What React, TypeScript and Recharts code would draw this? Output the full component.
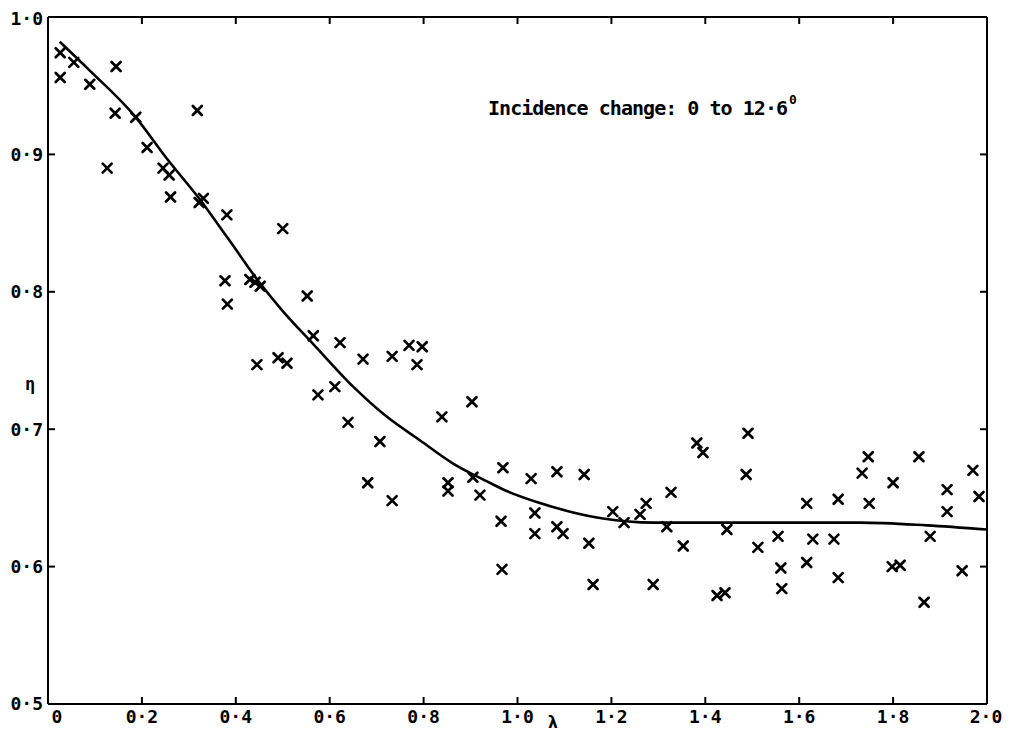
import React from 'react';
import { ComposedChart, Line, Scatter, XAxis, YAxis } from 'recharts';

// Measured points (lambda, eta)
const lambdaPts = [
  0.026, 0.026, 0.055, 0.089, 0.145, 0.143, 0.187, 0.126, 0.211, 0.245,
  0.258, 0.261, 0.318, 0.322, 0.331, 0.381, 0.5, 0.377, 0.382, 0.43,
  0.441, 0.452, 0.552, 0.565, 0.445, 0.49, 0.509, 0.575, 0.611, 0.622,
  0.639, 0.671, 0.707, 0.681, 0.733, 0.733, 0.769, 0.797, 0.786, 0.839,
  0.903, 0.852, 0.852, 0.905, 0.92, 0.969, 0.965, 0.967, 1.029, 1.037,
  1.037, 1.084, 1.084, 1.097, 1.142, 1.152, 1.161, 1.203, 1.227, 1.261,
  1.274, 1.289, 1.318, 1.327, 1.353, 1.382, 1.395, 1.425, 1.442, 1.446,
  1.487, 1.491, 1.512, 1.555, 1.561, 1.563, 1.616, 1.616, 1.629, 1.674,
  1.683, 1.683, 1.734, 1.747, 1.749, 1.798, 1.815, 1.8, 1.855, 1.866,
  1.879, 1.915, 1.915, 1.947, 1.97, 1.983,
];
const etaPts = [
  0.974, 0.956, 0.967, 0.951, 0.964, 0.93, 0.927, 0.89, 0.905, 0.89,
  0.885, 0.869, 0.932, 0.865, 0.868, 0.856, 0.846, 0.808, 0.791, 0.809,
  0.807, 0.804, 0.797, 0.768, 0.747, 0.752, 0.748, 0.725, 0.731, 0.763,
  0.705, 0.751, 0.691, 0.661, 0.753, 0.648, 0.761, 0.76, 0.747, 0.709,
  0.72, 0.661, 0.655, 0.665, 0.652, 0.672, 0.633, 0.598, 0.664, 0.639,
  0.624, 0.669, 0.629, 0.624, 0.667, 0.617, 0.587, 0.64, 0.632, 0.638,
  0.646, 0.587, 0.629, 0.654, 0.615, 0.69, 0.683, 0.579, 0.581, 0.627,
  0.667, 0.697, 0.614, 0.622, 0.599, 0.584, 0.646, 0.603, 0.62, 0.62,
  0.649, 0.592, 0.668, 0.68, 0.646, 0.6, 0.601, 0.661, 0.68, 0.574,
  0.622, 0.656, 0.64, 0.597, 0.67, 0.651,
];

// Fitted curve
const lambdaCurve = [0.025, 0.089, 0.187, 0.253, 0.324, 0.381, 0.452, 0.5, 0.565, 0.65, 0.722, 0.792, 0.863, 0.935, 0.977, 1.041, 1.112, 1.182, 1.289, 1.516, 1.73, 1.872, 2.0];
const etaCurve = [0.982, 0.961, 0.927, 0.897, 0.867, 0.840, 0.806, 0.786, 0.762, 0.731, 0.709, 0.692, 0.675, 0.662, 0.655, 0.647, 0.640, 0.635, 0.632, 0.632, 0.632, 0.630, 0.627];

const xTicks = [0, 0.2, 0.4, 0.6, 0.8, 1.0, 1.2, 1.4, 1.6, 1.8, 2.0];
const yTicks = [0.5, 0.6, 0.7, 0.8, 0.9, 1.0];

const points = lambdaPts.map((x, i) => ({ x, y: etaPts[i] }));
const curve = lambdaCurve.map((x, i) => ({ x, y: etaCurve[i] }));

const FONT = '"DejaVu Sans Mono", monospace';

const fmt = (v: number) => (v === 0 ? '0' : v.toFixed(1).replace('.', '·'));

const Cross = (props: any) => {
  const { cx, cy } = props;
  if (cx == null || cy == null) return null;
  const s = 4.5;
  return (
    <g stroke="#000" strokeWidth={2.7} strokeLinecap="round">
      <line x1={cx - s} y1={cy - s} x2={cx + s} y2={cy + s} />
      <line x1={cx - s} y1={cy + s} x2={cx + s} y2={cy - s} />
    </g>
  );
};

const XTick = (props: any) => {
  const { x, y, payload } = props;
  const v = payload.value as number;
  const dx = v === 0 ? 9 : v === 2 ? -1 : 0;
  return (
    <text x={x + dx} y={y} dy="0.71em" textAnchor="middle" fontFamily={FONT} fontWeight="bold" fontSize={18} fill="#000">
      {fmt(v)}
    </text>
  );
};

const YTick = (props: any) => {
  const { x, y, payload } = props;
  const v = payload.value as number;
  const dy = v === 1 ? 2 : 0;
  return (
    <text x={x} y={y + dy} dy="0.36em" textAnchor="end" fontFamily={FONT} fontWeight="bold" fontSize={18} fill="#000">
      {fmt(v)}
    </text>
  );
};

const NoTick = () => <g />;

export default function App() {
  return (
    <div style={{ margin: -8, width: 1012, height: 736, background: '#fff' }}>
      <ComposedChart
        width={1012}
        height={736}
        margin={{ top: 0, right: 0, bottom: 0, left: 0 }}
      >
        <XAxis
          xAxisId="b"
          type="number"
          dataKey="x"
          domain={[0, 2]}
          ticks={xTicks}
          allowDataOverflow
          height={32}
          stroke="#000"
          axisLine={{ stroke: '#000', strokeWidth: 2 }}
          tickLine={{ stroke: '#000', strokeWidth: 2 }}
          tickSize={-7}
          tickMargin={13}
          tick={<XTick />}
          interval={0}
        />
        <XAxis
          xAxisId="t"
          orientation="top"
          type="number"
          dataKey="x"
          domain={[0, 2]}
          ticks={xTicks}
          allowDataOverflow
          height={17}
          axisLine={{ stroke: '#000', strokeWidth: 2 }}
          tickLine={{ stroke: '#000', strokeWidth: 2 }}
          tickSize={-7}
          tick={<NoTick />}
          interval={0}
        />
        <YAxis
          yAxisId="l"
          type="number"
          domain={[0.5, 1]}
          ticks={yTicks}
          allowDataOverflow
          width={48}
          axisLine={{ stroke: '#000', strokeWidth: 2 }}
          tickLine={{ stroke: '#000', strokeWidth: 2 }}
          tickSize={-7}
          tickMargin={12}
          tick={<YTick />}
          interval={0}
        />
        <YAxis
          yAxisId="r"
          orientation="right"
          type="number"
          domain={[0.5, 1]}
          ticks={yTicks}
          allowDataOverflow
          width={25}
          axisLine={{ stroke: '#000', strokeWidth: 2 }}
          tickLine={{ stroke: '#000', strokeWidth: 2 }}
          tickSize={-7}
          tick={<NoTick />}
          interval={0}
        />
        <Line
          xAxisId="b"
          yAxisId="l"
          data={curve}
          dataKey="y"
          type="monotone"
          stroke="#000"
          strokeWidth={2.6}
          dot={false}
          activeDot={false}
          isAnimationActive={false}
        />
        <Scatter
          xAxisId="b"
          yAxisId="l"
          data={points}
          dataKey="y"
          shape={<Cross />}
          isAnimationActive={false}
        />
        <text x={488} y={115} fontFamily={FONT} fontWeight="bold" fontSize={20} fill="#000" textLength={300} lengthAdjust="spacing">
          Incidence change: 0 to 12·6
        </text>
        <text x={789} y={104} fontFamily={FONT} fontWeight="bold" fontSize={13} fill="#000">
          0
        </text>
        <text x={30} y={384} fontFamily={FONT} fontWeight="bold" fontSize={17} fill="#000" textAnchor="middle" dominantBaseline="central">
          η
        </text>
        <text x={553} y={722} fontFamily={FONT} fontWeight="bold" fontSize={18} fill="#000" textAnchor="middle" dominantBaseline="central">
          λ
        </text>
      </ComposedChart>
    </div>
  );
}
